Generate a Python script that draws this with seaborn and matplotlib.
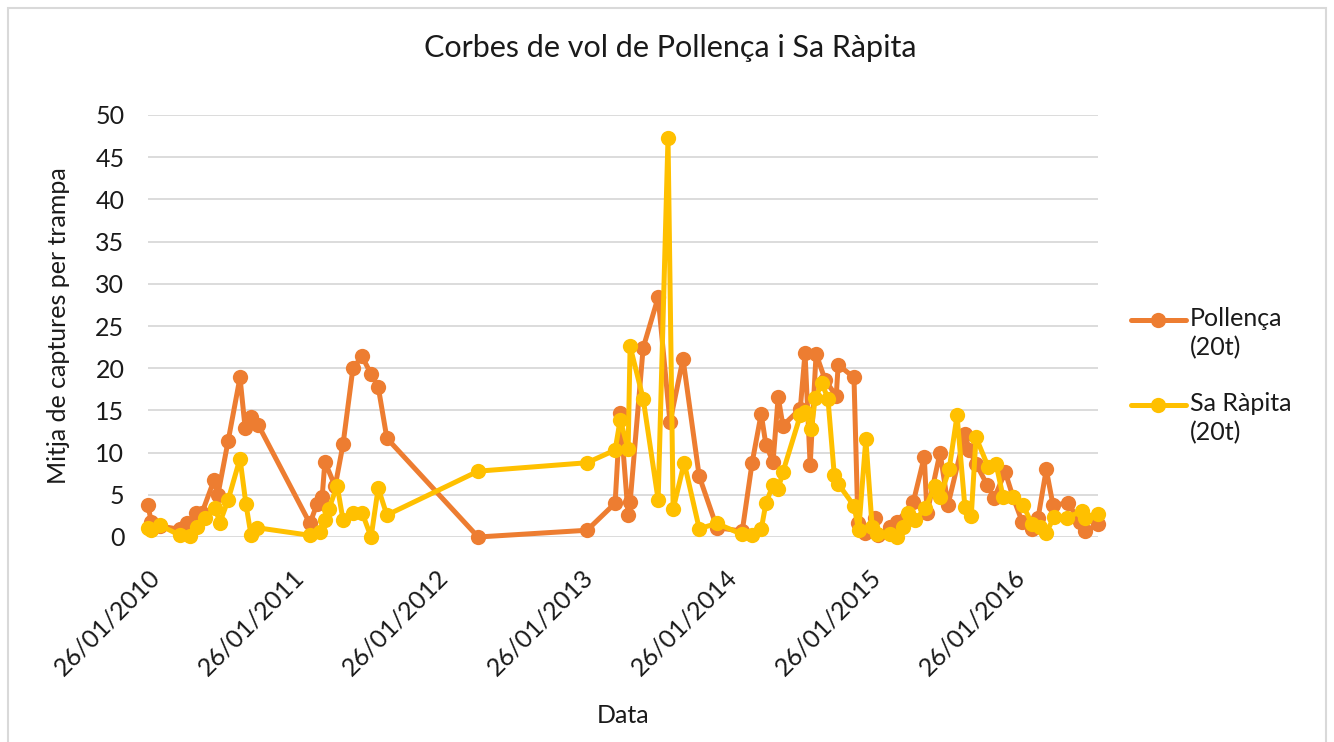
import pandas as pd
import numpy as np
import matplotlib
matplotlib.use("Agg")
from matplotlib import pyplot as plt
import matplotlib.dates as mdates
from matplotlib.lines import Line2D
from matplotlib.patches import Rectangle
import seaborn as sns

# Pollença (20t)
pol_dates = ["2010-01-26", "2010-02-03", "2010-02-25", "2010-04-17", "2010-05-05", "2010-05-28",
             "2010-06-12", "2010-07-12", "2010-07-22", "2010-08-17", "2010-09-16", "2010-09-29",
             "2010-10-14", "2010-11-01", "2011-03-12", "2011-03-30", "2011-04-12", "2011-04-19",
             "2011-05-15", "2011-06-04", "2011-06-29", "2011-07-22", "2011-08-14", "2011-09-01",
             "2011-09-23", "2012-05-11", "2013-02-11", "2013-04-23", "2013-05-06", "2013-05-26",
             "2013-05-31", "2013-07-03", "2013-08-10", "2013-09-09", "2013-10-12", "2013-11-22",
             "2014-01-06", "2014-03-11", "2014-04-05", "2014-04-28", "2014-05-10", "2014-05-28",
             "2014-06-10", "2014-06-22", "2014-08-05", "2014-08-17", "2014-08-30", "2014-09-14",
             "2014-10-07", "2014-11-04", "2014-11-09", "2014-12-19", "2014-12-29", "2015-01-16",
             "2015-02-11", "2015-02-18", "2015-03-21", "2015-04-07", "2015-05-18", "2015-06-15",
             "2015-06-22", "2015-07-25", "2015-08-14", "2015-09-26", "2015-10-07", "2015-10-24",
             "2015-11-21", "2015-12-09", "2016-01-06", "2016-01-26", "2016-02-18", "2016-03-14",
             "2016-03-29", "2016-04-19", "2016-05-06", "2016-06-13", "2016-07-14", "2016-07-26",
             "2016-08-28"]
pol_vals = [3.8, 1.8, 1.3, 0.9, 1.6, 2.9,
            2.9, 6.7, 5.0, 11.4, 18.9, 12.9,
            14.2, 13.3, 1.6, 3.9, 4.7, 8.9,
            6.0, 11.0, 20.0, 21.4, 19.3, 17.8,
            11.7, 0.0, 0.8, 4.0, 14.7, 2.6,
            4.1, 22.4, 28.4, 13.6, 21.1, 7.2,
            1.1, 0.7, 8.8, 14.6, 10.9, 8.9,
            16.6, 13.2, 15.2, 21.8, 8.5, 21.7,
            18.6, 16.7, 20.4, 18.9, 1.6, 0.5,
            2.2, 0.2, 1.2, 1.8, 4.1, 9.5,
            2.8, 10.0, 3.8, 12.2, 10.3, 8.7,
            6.2, 4.6, 7.7, 4.7, 1.8, 1.0,
            2.2, 8.0, 3.8, 4.0, 1.8, 0.7,
            1.5]

# Sa Ràpita (20t)
rap_dates = ["2010-01-26", "2010-02-03", "2010-02-25", "2010-04-17", "2010-05-12", "2010-05-30",
             "2010-06-19", "2010-07-15", "2010-07-27", "2010-08-17", "2010-09-16", "2010-10-01",
             "2010-10-14", "2010-10-29", "2011-03-12", "2011-04-07", "2011-04-19", "2011-04-29",
             "2011-05-20", "2011-06-04", "2011-06-29", "2011-07-22", "2011-08-14", "2011-09-01",
             "2011-09-23", "2012-05-11", "2013-02-11", "2013-04-23", "2013-05-06", "2013-05-26",
             "2013-05-31", "2013-07-03", "2013-08-10", "2013-09-04", "2013-09-17", "2013-10-15",
             "2013-11-22", "2014-01-06", "2014-03-11", "2014-04-05", "2014-04-28", "2014-05-10",
             "2014-05-28", "2014-06-10", "2014-06-22", "2014-08-05", "2014-08-17", "2014-09-02",
             "2014-09-12", "2014-09-29", "2014-10-14", "2014-10-30", "2014-11-09", "2014-12-19",
             "2014-12-31", "2015-01-18", "2015-02-03", "2015-02-16", "2015-03-21", "2015-04-07",
             "2015-04-22", "2015-05-05", "2015-05-23", "2015-06-17", "2015-07-12", "2015-07-25",
             "2015-08-17", "2015-09-06", "2015-09-26", "2015-10-12", "2015-10-24", "2015-11-24",
             "2015-12-14", "2016-01-01", "2016-01-26", "2016-02-20", "2016-03-14", "2016-04-03",
             "2016-04-19", "2016-05-09", "2016-06-11", "2016-07-19", "2016-07-26", "2016-08-28"]
rap_vals = [1.1, 0.8, 1.4, 0.2, 0.1, 1.2,
            2.2, 3.4, 1.7, 4.4, 9.3, 3.9,
            0.2, 1.1, 0.2, 0.6, 2.0, 3.3,
            6.1, 2.0, 2.8, 2.9, 0.0, 5.8,
            2.6, 7.8, 8.8, 10.3, 13.9, 10.4,
            22.6, 16.4, 4.4, 47.3, 3.3, 8.8,
            1.0, 1.6, 0.3, 0.2, 0.9, 4.0,
            6.2, 5.7, 7.7, 14.4, 14.8, 12.8,
            16.5, 18.2, 16.4, 7.4, 6.3, 3.7,
            0.8, 11.6, 1.2, 0.3, 0.3, 0.0,
            1.2, 2.8, 2.0, 3.4, 6.0, 4.7,
            8.0, 14.4, 3.5, 2.5, 11.8, 8.3,
            8.6, 4.7, 4.7, 3.8, 1.5, 1.2,
            0.5, 2.4, 2.3, 3.1, 2.3, 2.7]

tick_dates = ["2010-01-26", "2011-01-26", "2012-01-26", "2013-01-26",
              "2014-01-26", "2015-01-26", "2016-01-26"]
y_ticks = [0, 5, 10, 15, 20, 25, 30, 35, 40, 45, 50]

series_names = ["Pollença\n(20t)", "Sa Ràpita\n(20t)"]
colors = ["#ED7D31", "#FFC000"]

df_pol = pd.DataFrame({"Data": pd.to_datetime(pol_dates), "valor": pol_vals})
df_rap = pd.DataFrame({"Data": pd.to_datetime(rap_dates), "valor": rap_vals})

sns.set_style("white")
plt.rcParams["font.family"] = ["Lato", "DejaVu Sans"]
txt = "#1a1a1a"

fig = plt.figure(figsize=(13.34, 7.42), dpi=100)
ax = fig.add_axes([148 / 1334, 1 - 537 / 742, 950 / 1334, 422 / 742])

for d, c in zip([df_pol, df_rap], colors):
    sns.lineplot(data=d, x="Data", y="valor", ax=ax, color=c, marker="o",
                 markersize=11, markeredgewidth=0, linewidth=3.6, clip_on=False)

ax.set_ylim(0, 50)
ax.set_yticks(y_ticks)
ax.set_xlim(pd.Timestamp(pol_dates[0]), pd.Timestamp(pol_dates[-1]))
ax.set_xticks(pd.to_datetime(tick_dates))
ax.xaxis.set_major_formatter(mdates.DateFormatter("%d/%m/%Y"))
ax.grid(axis="y", color="#D9D9D9", linewidth=1.3)
ax.set_axisbelow(True)
for s in ax.spines.values():
    s.set_visible(False)
ax.tick_params(axis="both", length=0, labelsize=18, labelcolor=txt)
ax.tick_params(axis="y", pad=17)
plt.setp(ax.get_xticklabels(), rotation=45, ha="right", rotation_mode="anchor")
ax.tick_params(axis="x", pad=20)

ax.set_xlabel("Data", fontsize=18, color=txt, labelpad=18)
ax.set_ylabel("Mitja de captures per trampa", fontsize=18, color=txt, labelpad=18)
fig.text(670 / 1334, 1 - 48 / 742, "Corbes de vol de Pollença i Sa Ràpita",
         ha="center", va="center", fontsize=22, color=txt)

# legend drawn by hand so the key sits on the first text line, as in the original
leg_y = [320, 405]
for name, c, yy in zip(series_names, colors, leg_y):
    yf = 1 - yy / 742
    fig.add_artist(Line2D([1131 / 1334, 1186 / 1334], [yf, yf], color=c, lw=3.6,
                          transform=fig.transFigure))
    fig.add_artist(Line2D([1158 / 1334], [yf], color=c, marker="o", markersize=11,
                          markeredgewidth=0, transform=fig.transFigure))
    fig.text(1190 / 1334, 1 - (yy - 13) / 742, name, ha="left", va="top",
             fontsize=18, color=txt, linespacing=1.3)

fig.patches.append(Rectangle((8 / 1334, -0.02), 1318 / 1334, 1.02 - 8 / 742,
                             transform=fig.transFigure, fill=False,
                             edgecolor="#D9D9D9", linewidth=1.5))

fig.savefig("out.png", dpi=100)
